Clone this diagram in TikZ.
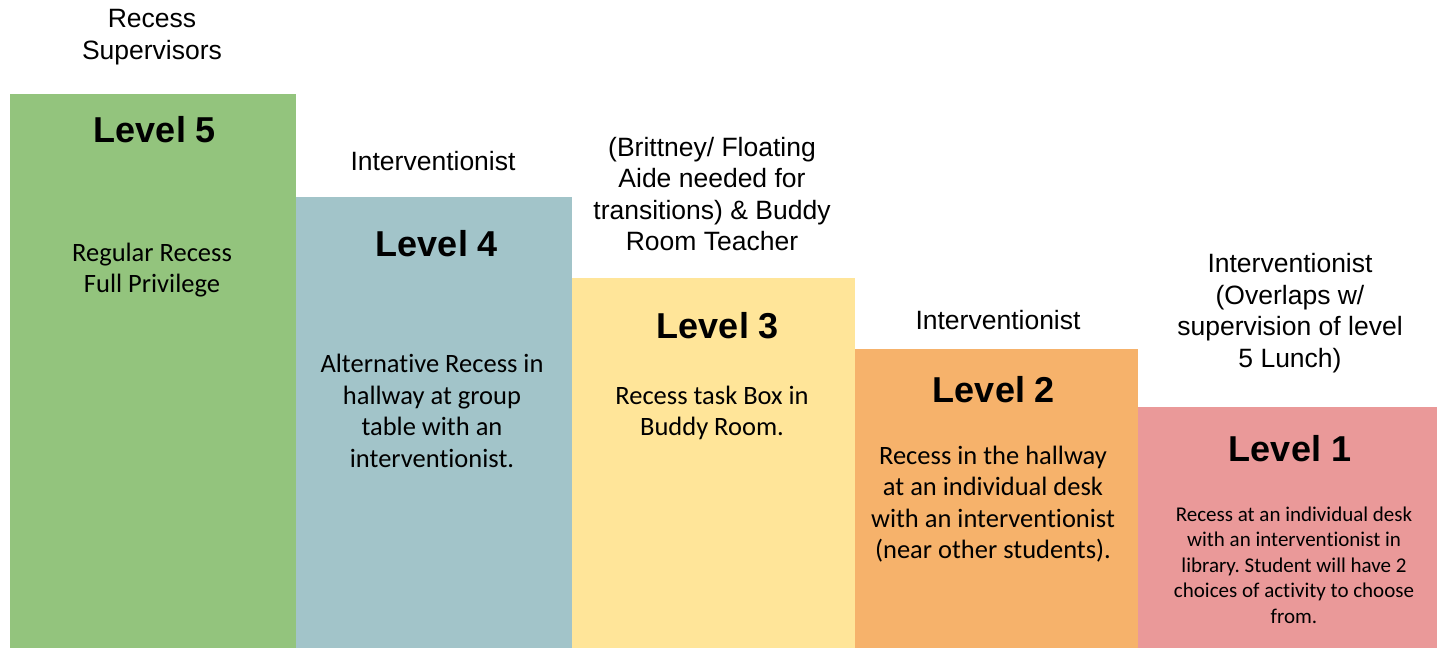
\documentclass[tikz,border=0pt]{standalone}
\usepackage{fontspec}
\setmainfont{Liberation Sans}
\newfontfamily\bodyfont[RawFeature=-liga]{Carlito}
\frenchspacing
\definecolor{lvfive}{HTML}{93C47D}
\definecolor{lvfour}{HTML}{A2C4C9}
\definecolor{lvthree}{HTML}{FFE599}
\definecolor{lvtwo}{HTML}{F6B26B}
\definecolor{lvone}{HTML}{EA9999}
\begin{document}
\begin{tikzpicture}[x=1pt,y=-1pt,
box/.style={anchor=north west, inner sep=0, outer sep=0},
lvl/.style={font=\fontsize{36}{42}\selectfont\bfseries},
head/.style={align=center, font=\fontsize{26.5}{31.5}\selectfont},
body/.style={align=center, font=\bodyfont\fontsize{26.5}{31.5}\selectfont},
small/.style={align=center, font=\bodyfont\fontsize{21}{25.5}\selectfont}]
\useasboundingbox (0,0) rectangle (1437,648);
\node[box, fill=lvfive, minimum width=286, minimum height=554] (box5) at (10,94){};
\node[box, fill=lvfour, minimum width=276, minimum height=451] (box4) at (296,197){};
\node[box, fill=lvthree, minimum width=283, minimum height=370] (box3) at (572,278){};
\node[box, fill=lvtwo, minimum width=283, minimum height=299] (box2) at (855,349){};
\node[box, fill=lvone, minimum width=299, minimum height=241] (box1) at (1138,407){};
\node[head] (head5) at (152,37){Recess\\Supervisors};
\node[lvl] (lvl5) at (155,130){Level 5};
\node[body] (body5) at (152,270){Regular Recess\\Full Privilege};
\node[head] (head4) at (433,161){Interventionist};
\node[lvl] (lvl4) at (437,244){Level 4};
\node[body] (body4) at (432,411){Alternative Recess in\\hallway at group\\table with an\\interventionist.};
\node[head] (head3) at (712,194){(Brittney/ Floating\\Aide needed for\\transitions) \& Buddy\\Room Teacher};
\node[lvl] (lvl3) at (718,326){Level 3};
\node[body] (body3) at (712,413){Recess task Box in\\Buddy Room.};
\node[head] (head2) at (998,320){Interventionist};
\node[lvl] (lvl2) at (994,390){Level 2};
\node[body] (body2) at (993,504){Recess in the hallway\\at an individual desk\\with an interventionist\\(near other students).};
\node[head] (head1) at (1290,313){Interventionist\\(Overlaps w/\\supervision of level\\5 Lunch)};
\node[lvl] (lvl1) at (1290,449){Level 1};
\node[small] (body1) at (1294,565){Recess at an individual desk\\with an interventionist in\\library. Student will have 2\\choices of activity to choose\\from.};
\end{tikzpicture}
\end{document}
